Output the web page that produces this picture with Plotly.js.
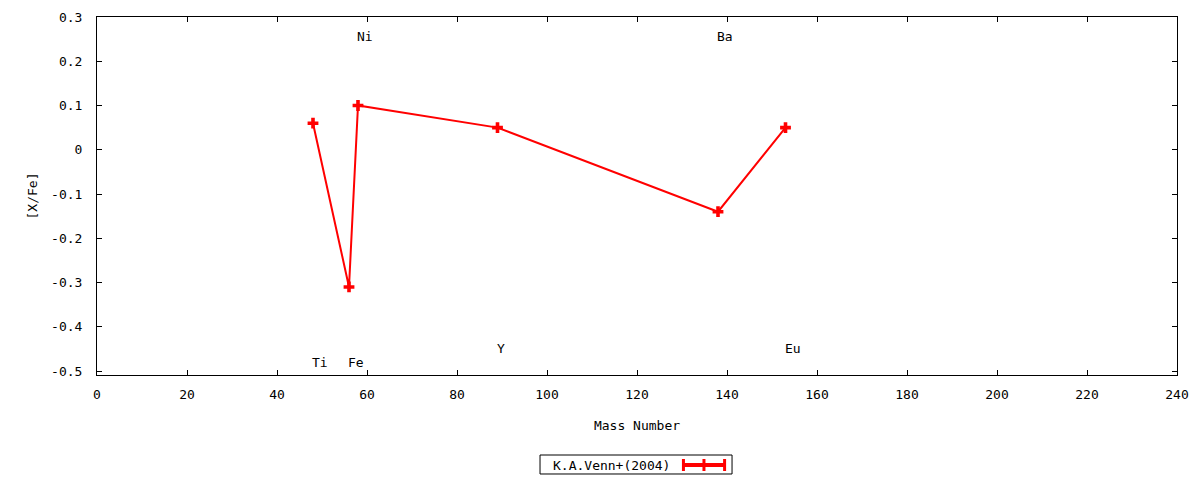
<!DOCTYPE html>
<html>
<head>
<meta charset="utf-8">
<script src="https://cdn.plot.ly/plotly-3.0.1.min.js"></script>
<style>
  html, body { margin: 0; padding: 0; background: #fff; }
  #graph { width: 1200px; height: 480px; }
</style>
</head>
<body>
<div id="graph"></div>
<script>
// K.A.Venn+(2004) abundances vs mass number
var elements = ['Ti', 'Fe', 'Ni', 'Y', 'Ba', 'Eu'];
var mass = [48, 56, 58, 89, 138, 153];
var x_fe = [0.06, -0.31, 0.10, 0.05, -0.14, 0.05];

// where the element names sit
var label_y = [-0.48, -0.48, 0.255, -0.45, 0.255, -0.45];

var x_ticks = [0, 20, 40, 60, 80, 100, 120, 140, 160, 180, 200, 220, 240];
var y_ticks = [-0.5, -0.4, -0.3, -0.2, -0.1, 0, 0.1, 0.2, 0.3];
var y_ticktext = ['-0.5', '-0.4', '-0.3', '-0.2', '-0.1', '0', '0.1', '0.2', '0.3'];

var font = {family: 'DejaVu Sans Mono, monospace', size: 13, color: '#000'};

var trace = {
  x: mass,
  y: x_fe,
  mode: 'lines+markers',
  type: 'scatter',
  name: 'K.A.Venn+(2004)',
  line: {color: '#ff0000', width: 2},
  marker: {symbol: 'cross', size: 9, color: '#ff0000'},
  showlegend: false
};

var annotations = elements.map(function (el, i) {
  return {
    x: mass[i], y: label_y[i], xref: 'x', yref: 'y',
    text: el, showarrow: false, xanchor: 'left', yanchor: 'middle',
    xshift: -3, font: font
  };
});

// gnuplot-like key: text on the left, sample on the right
var key_y = -0.2514;
annotations.push({
  x: 0.4204, y: key_y, xref: 'paper', yref: 'paper',
  text: 'K.A.Venn+(2004)',
  showarrow: false, xanchor: 'left', yanchor: 'middle',
  font: font
});

var red = {color: '#ff0000', width: 3};
var shapes = [
  {type: 'rect', xref: 'paper', yref: 'paper', x0: 0.4102, x1: 0.5880, y0: -0.2235, y1: -0.2765,
   line: {color: '#000', width: 1}},
  {type: 'line', xref: 'paper', yref: 'paper', x0: 0.5426, x1: 0.5815, y0: key_y, y1: key_y,
   line: {color: '#ff0000', width: 4}},
  {type: 'line', xref: 'paper', yref: 'paper', x0: 0.5430, x1: 0.5430, y0: key_y + 0.0168, y1: key_y - 0.0168, line: red},
  {type: 'line', xref: 'paper', yref: 'paper', x0: 0.5811, x1: 0.5811, y0: key_y + 0.0168, y1: key_y - 0.0168, line: red},
  {type: 'line', xref: 'paper', yref: 'paper', x0: 0.5620, x1: 0.5620, y0: key_y + 0.0168, y1: key_y - 0.0168, line: red}
];

var layout = {
  width: 1200,
  height: 480,
  margin: {l: 97, r: 23, t: 17, b: 105},
  paper_bgcolor: '#fff',
  plot_bgcolor: '#fff',
  font: font,
  xaxis: {
    range: [0, 240],
    tickvals: x_ticks,
    ticks: 'inside', ticklen: 5, tickcolor: '#000',
    showline: true, linecolor: '#000', linewidth: 1, mirror: 'ticks',
    showgrid: false, zeroline: false,
    ticklabelstandoff: 7,
    title: {text: 'Mass Number', font: font, standoff: 20}
  },
  yaxis: {
    range: [-0.509, 0.3],
    tickvals: y_ticks,
    ticktext: y_ticktext,
    ticks: 'inside', ticklen: 5, tickcolor: '#000',
    showline: true, linecolor: '#000', linewidth: 1, mirror: 'ticks',
    showgrid: false, zeroline: false,
    ticklabelstandoff: 11,
    title: {text: '[X/Fe]', font: font, standoff: 10}
  },
  annotations: annotations,
  shapes: shapes,
  showlegend: false
};

Plotly.newPlot('graph', [trace], layout, {displayModeBar: false, staticPlot: true});
</script>
</body>
</html>
